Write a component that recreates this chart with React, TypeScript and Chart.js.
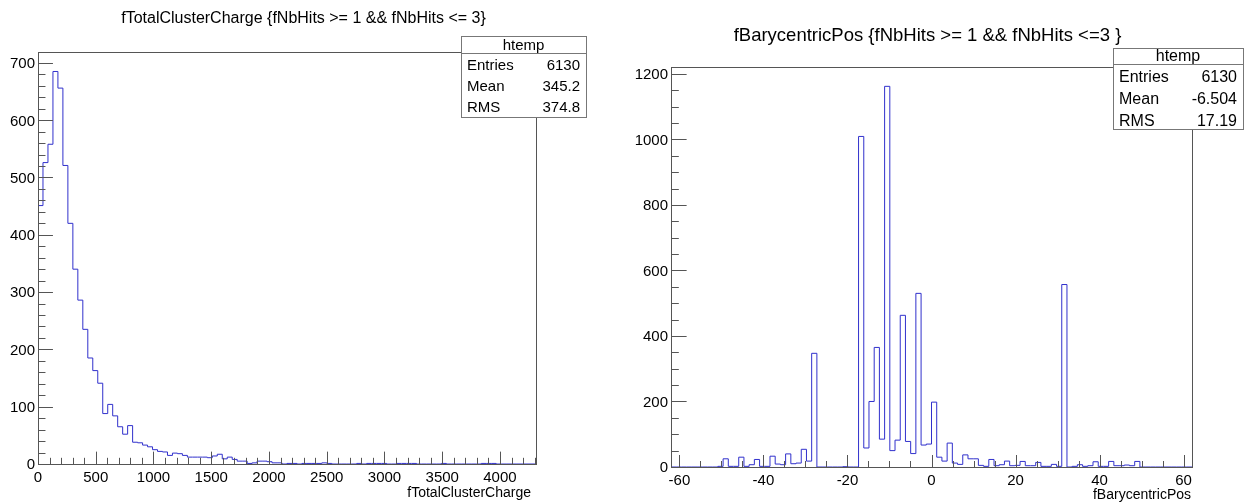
import React, { useEffect, useRef } from 'react';
import { Chart, registerables } from 'chart.js';
Chart.register(...registerables);

// ---------- Left histogram: fTotalClusterCharge ----------
const chargeMin = 0;
const chargeMax = 4312;
const chargeCounts = [
  451, 526, 558, 685, 656, 521, 420, 340, 286, 235,
  185, 163, 141, 88, 104, 84, 65, 52, 67, 38,
  37, 33, 30, 25, 22, 21, 15, 19, 18, 15,
  12, 12, 12, 12, 11, 14, 17, 9, 12, 8,
  5, 5, 1, 2, 5, 5, 4, 2, 2, 0,
  1, 1, 0, 1, 1, 1, 1, 2, 1, 0,
  0, 0, 0, 0, 1, 0, 1, 1, 1, 1,
  0, 0, 1, 1, 1, 1, 0, 0, 0, 0,
  0, 1, 0, 0, 0, 0, 0, 0, 0, 1,
  1, 1, 0, 0, 0, 0, 0, 0, 0, 0,
];
const chargeYMax = 719;
const chargeXTicks = [0, 500, 1000, 1500, 2000, 2500, 3000, 3500, 4000];
const chargeYTicks = [0, 100, 200, 300, 400, 500, 600, 700];
const chargeTitle = 'fTotalClusterCharge {fNbHits >= 1 && fNbHits <= 3}';
const chargeAxisTitle = 'fTotalClusterCharge';
const chargeStatNames = ['Entries', 'Mean', 'RMS'];
const chargeStatValues = ['6130', '345.2', '374.8'];

// ---------- Right histogram: fBarycentricPos ----------
const posMin = -62;
const posMax = 62;
const posCounts = [
  0, 0, 0, 0, 0, 0, 0, 0, 0, 2,
  25, 2, 2, 30, 2, 7, 23, 2, 2, 33,
  9, 7, 40, 10, 12, 54, 18, 347, 0, 0,
  0, 0, 0, 1, 0, 0, 1009, 58, 200, 365,
  85, 1162, 50, 82, 463, 78, 41, 530, 67, 70,
  198, 30, 18, 73, 12, 8, 37, 25, 25, 5,
  2, 23, 4, 7, 18, 4, 5, 17, 4, 4,
  14, 2, 2, 8, 2, 557, 0, 2, 7, 2,
  4, 16, 2, 2, 17, 4, 4, 6, 4, 17,
  0, 0, 0, 0, 0, 0, 0, 0, 0, 0,
];
const posYMax = 1221;
const posXTicks = [-60, -40, -20, 0, 20, 40, 60];
const posYTicks = [0, 200, 400, 600, 800, 1000, 1200];
const posTitle = 'fBarycentricPos {fNbHits >= 1 && fNbHits <=3 }';
const posAxisTitle = 'fBarycentricPos';
const posStatNames = ['Entries', 'Mean', 'RMS'];
const posStatValues = ['6130', '-6.504', '17.19'];

const FONT = '"Liberation Sans", Arial, Helvetica, sans-serif';
const LINE_COLOR = '#3030cc';
const FRAME_COLOR = '#555555';

function stepPoints(counts: number[], min: number, max: number) {
  const w = (max - min) / counts.length;
  const pts: { x: number; y: number }[] = [{ x: min, y: 0 }];
  counts.forEach((c, i) => pts.push({ x: min + i * w, y: c }));
  pts.push({ x: max, y: counts[counts.length - 1] });
  pts.push({ x: max, y: 0 });
  return pts;
}

type PanelCfg = {
  canvasW: number;
  offsetX: number;
  yWidth: number;
  xHeight: number;
  padTop: number;
  padRight: number;
  counts: number[];
  min: number;
  max: number;
  yMax: number;
  xTicks: number[];
  yTicks: number[];
  xMinor: number;
  yMinor: number;
  title: string;
  titleSize: number;
  titleX: number;
  titleY: number;
  axisTitle: string;
  axisTitleX: number;
  axisTitleY: number;
  statNames: string[];
  statValues: string[];
  statFont: number;
  statShift: number;
  box: { x: number; y: number; w: number; h: number; header: number };
};

function makePlugin(cfg: PanelCfg) {
  return {
    id: 'rootStyle',
    afterDraw(chart: any) {
      const { ctx, chartArea: a, scales } = chart;
      const xs = scales.x;
      const ys = scales.y;
      const ox = cfg.offsetX;
      ctx.save();
      // frame
      ctx.strokeStyle = FRAME_COLOR;
      ctx.lineWidth = 1;
      ctx.strokeRect(Math.round(a.left) + 0.5, Math.round(a.top) + 0.5, Math.round(a.right - a.left), Math.round(a.bottom - a.top));
      // ticks
      const fw = a.right - a.left;
      const fh = a.bottom - a.top;
      const xMajLen = fh * 0.03;
      const yMajLen = fw * 0.03;
      ctx.beginPath();
      const start = Math.ceil(cfg.min / cfg.xMinor) * cfg.xMinor;
      const majStep = cfg.xTicks[1] - cfg.xTicks[0];
      for (let v = start; v <= cfg.max + 1e-9; v += cfg.xMinor) {
        const px = Math.round(xs.getPixelForValue(v)) + 0.5;
        const isMaj = Math.abs(Math.round(v / majStep) * majStep - v) < 1e-6;
        const len = isMaj ? xMajLen : xMajLen / 2;
        ctx.moveTo(px, a.bottom);
        ctx.lineTo(px, a.bottom - len);
      }
      const yMajStep = cfg.yTicks[1] - cfg.yTicks[0];
      for (let v = 0; v <= cfg.yMax + 1e-9; v += cfg.yMinor) {
        const py = Math.round(ys.getPixelForValue(v)) + 0.5;
        const isMaj = Math.abs(Math.round(v / yMajStep) * yMajStep - v) < 1e-6;
        const len = isMaj ? yMajLen : yMajLen / 2;
        ctx.moveTo(a.left, py);
        ctx.lineTo(a.left + len, py);
      }
      ctx.stroke();
      // tick labels
      ctx.fillStyle = '#000';
      ctx.font = `15px ${FONT}`;
      ctx.textBaseline = 'alphabetic';
      ctx.textAlign = 'center';
      cfg.xTicks.forEach((v) => {
        ctx.fillText(String(v), xs.getPixelForValue(v), a.bottom + 17.5);
      });
      ctx.textAlign = 'right';
      cfg.yTicks.forEach((v) => {
        ctx.fillText(String(v), a.left - 3, ys.getPixelForValue(v) + 5.4);
      });
      // axis title
      ctx.font = `14px ${FONT}`;
      ctx.textAlign = 'right';
      ctx.fillText(cfg.axisTitle, cfg.axisTitleX - ox, cfg.axisTitleY);
      // title
      ctx.font = `${cfg.titleSize}px ${FONT}`;
      ctx.textAlign = 'center';
      ctx.fillText(cfg.title, cfg.titleX - ox, cfg.titleY);
      // stats box
      const b = cfg.box;
      const bx = b.x - ox;
      ctx.fillStyle = '#fff';
      ctx.fillRect(bx, b.y, b.w, b.h);
      ctx.strokeStyle = '#777';
      ctx.strokeRect(bx + 0.5, b.y + 0.5, b.w, b.h);
      ctx.beginPath();
      ctx.moveTo(bx, b.y + b.header + 0.5);
      ctx.lineTo(bx + b.w, b.y + b.header + 0.5);
      ctx.stroke();
      ctx.fillStyle = '#000';
      ctx.font = `${cfg.statFont}px ${FONT}`;
      ctx.textBaseline = 'middle';
      ctx.textAlign = 'center';
      ctx.fillText('htemp', bx + b.w / 2, b.y + b.header / 2 + 1);
      const rowH = (b.h - b.header) / cfg.statNames.length;
      cfg.statNames.forEach((n, i) => {
        const cy = b.y + b.header + rowH * (i + 0.5) + cfg.statShift;
        ctx.textAlign = 'left';
        ctx.fillText(n, bx + 6, cy);
        ctx.textAlign = 'right';
        ctx.fillText(cfg.statValues[i], bx + b.w - 6, cy);
      });
      ctx.restore();
    },
  };
}

function Panel({ cfg }: { cfg: PanelCfg }) {
  const ref = useRef<HTMLCanvasElement>(null);
  useEffect(() => {
    if (!ref.current) return;
    const chart = new Chart(ref.current, {
      type: 'line',
      data: {
        datasets: [
          {
            data: stepPoints(cfg.counts, cfg.min, cfg.max),
            stepped: true,
            borderColor: LINE_COLOR,
            borderWidth: 1,
            pointRadius: 0,
            fill: false,
            tension: 0,
          } as any,
        ],
      },
      options: {
        animation: false,
        responsive: false,
        maintainAspectRatio: false,
        devicePixelRatio: 1,
        events: [],
        layout: {
          autoPadding: false,
          padding: { left: 0, right: cfg.padRight, top: cfg.padTop, bottom: 0 },
        },
        plugins: {
          legend: { display: false },
          tooltip: { enabled: false },
          title: { display: false },
        },
        scales: {
          x: {
            type: 'linear',
            min: cfg.min,
            max: cfg.max,
            grid: { display: false, drawTicks: false },
            border: { display: false },
            ticks: { display: false },
            afterFit: (s: any) => {
              s.height = cfg.xHeight;
            },
          },
          y: {
            type: 'linear',
            min: 0,
            max: cfg.yMax,
            grid: { display: false, drawTicks: false },
            border: { display: false },
            ticks: { display: false },
            afterFit: (s: any) => {
              s.width = cfg.yWidth;
            },
          },
        },
      } as any,
      plugins: [makePlugin(cfg)],
    });
    return () => chart.destroy();
  }, [cfg]);
  return (
    <canvas
      ref={ref}
      width={cfg.canvasW}
      height={503}
      style={{ position: 'absolute', left: cfg.offsetX, top: 0, width: cfg.canvasW, height: 503 }}
    />
  );
}

const leftCfg: PanelCfg = {
  canvasW: 610,
  offsetX: 0,
  yWidth: 38,
  xHeight: 39,
  padTop: 52,
  padRight: 74,
  counts: chargeCounts,
  min: chargeMin,
  max: chargeMax,
  yMax: chargeYMax,
  xTicks: chargeXTicks,
  yTicks: chargeYTicks,
  xMinor: 100,
  yMinor: 20,
  title: chargeTitle,
  titleSize: 16,
  titleX: 303.5,
  titleY: 23,
  axisTitle: chargeAxisTitle,
  axisTitleX: 531,
  axisTitleY: 497,
  statNames: chargeStatNames,
  statValues: chargeStatValues,
  statFont: 15,
  statShift: 2,
  box: { x: 461, y: 36, w: 125, h: 81, header: 17 },
};

const rightCfg: PanelCfg = {
  canvasW: 635,
  offsetX: 610,
  yWidth: 61,
  xHeight: 36,
  padTop: 67,
  padRight: 53,
  counts: posCounts,
  min: posMin,
  max: posMax,
  yMax: posYMax,
  xTicks: posXTicks,
  yTicks: posYTicks,
  xMinor: 5,
  yMinor: 50,
  title: posTitle,
  titleSize: 18.5,
  titleX: 927.5,
  titleY: 41,
  axisTitle: posAxisTitle,
  axisTitleX: 1191,
  axisTitleY: 499,
  statNames: posStatNames,
  statValues: posStatValues,
  statFont: 16,
  statShift: 3,
  box: { x: 1113, y: 48, w: 130, h: 81, header: 16 },
};

export default function App() {
  return (
    <div style={{ position: 'fixed', left: 0, top: 0, width: 1245, height: 503, background: '#fff' }}>
      <Panel cfg={leftCfg} />
      <Panel cfg={rightCfg} />
    </div>
  );
}
